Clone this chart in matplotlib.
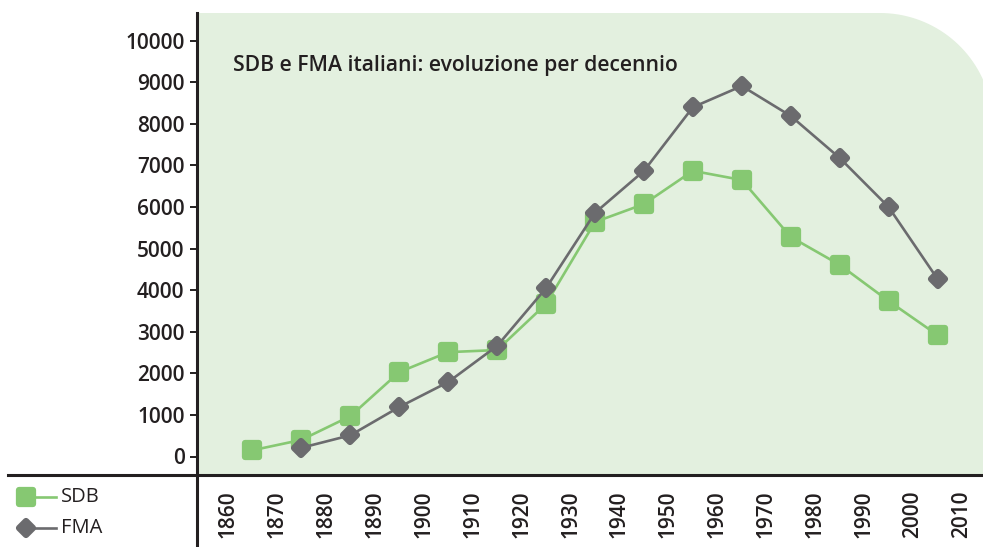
import numpy as np
import matplotlib
matplotlib.use("Agg")
import matplotlib.pyplot as plt
from matplotlib.lines import Line2D
from matplotlib.patches import Polygon
from matplotlib.markers import MarkerStyle

# values (points sit at the middle of each decade)
sdb_years = [1865, 1875, 1885, 1895, 1905, 1915, 1925, 1935, 1945, 1955, 1965, 1975, 1985, 1995, 2005]
sdb_vals = [150, 400, 970, 2030, 2510, 2560, 3670, 5640, 6070, 6870, 6650, 5280, 4610, 3740, 2920]
fma_years = [1875, 1885, 1895, 1905, 1915, 1925, 1935, 1945, 1955, 1965, 1975, 1985, 1995, 2005]
fma_vals = [210, 510, 1190, 1790, 2660, 4050, 5860, 6870, 8400, 8910, 8190, 7180, 6000, 4270]
x_ticks = list(range(1860, 2011, 10))
y_ticks = list(range(0, 10001, 1000))
title = "SDB e FMA italiani: evoluzione per decennio"

GREEN = "#86c872"
GREY = "#6b6b6e"
PANEL = "#e3f0df"
INK = "#231f20"

W, H = 983, 547
plt.rcParams['font.family'] = ['Open Sans', 'DejaVu Sans']

fig = plt.figure(figsize=(W / 100, H / 100), dpi=100)

def fx(px):
    return px / W

def fy(py):
    return 1 - py / H

# background panel with rounded top-right corner (pixel coords)
r, cx, cy = 113, 880, 126
ang = np.linspace(np.pi / 2, 0, 40)
arc = [(cx + r * np.cos(a), cy - r * np.sin(a)) for a in ang]
pts = [(197, 475), (197, 13)] + arc + [(W + 20, cy + 200), (W + 20, 475)]
pts = [(fx(p[0]), fy(p[1])) for p in pts]
fig.add_artist(Polygon(pts, closed=True, facecolor=PANEL, edgecolor="none",
                       transform=fig.transFigure, zorder=0))

ax = fig.add_axes([fx(197), fy(475), fx(W - 197), (475 - 13) / H])
ax.patch.set_visible(False)
x0 = 1860 - (228 - 197) / 4.893
x1 = 2010 + (W - 962) / 4.893
ax.set_xlim(x0, x1)
ax.set_ylim(-(475 - 456.5) / 41.58 * 1000, (456.5 - 13) / 41.58 * 1000)
for s in ax.spines.values():
    s.set_visible(False)

sq = MarkerStyle("s", joinstyle="round")
dm = MarkerStyle("D", joinstyle="round")
ax.plot(sdb_years, sdb_vals, color=GREEN, lw=1.9, marker=sq, ms=9.5,
        mfc=GREEN, mec=GREEN, mew=4.5, zorder=3)
ax.plot(fma_years, fma_vals, color=GREY, lw=1.9, marker=dm, ms=6.8,
        mfc=GREY, mec=GREY, mew=4.5, zorder=4)

ax.set_yticks(y_ticks)
ax.set_yticklabels([str(v) for v in y_ticks], fontsize=15, fontweight=600, color=INK)
ax.tick_params(axis="y", direction="out", length=5, width=1.4, color=INK, pad=4)
ax.set_xticks(x_ticks)
ax.set_xticklabels([str(v) for v in x_ticks], rotation=90, fontsize=15,
                   fontweight=600, color=INK)
ax.tick_params(axis="x", length=0, pad=11)

ax.text((233 - 197) / (W - 197), (475 - 66) / (475 - 13), title,
        transform=ax.transAxes, fontsize=15.2, fontweight=600, color=INK,
        va="center", ha="left")

# axis lines
fig.add_artist(Line2D([fx(197), fx(197)], [fy(13), fy(H + 5)], color=INK, lw=2.2,
                      transform=fig.transFigure, zorder=5))
fig.add_artist(Line2D([fx(8), fx(W + 5)], [fy(475), fy(475)], color=INK, lw=2.2,
                      transform=fig.transFigure, zorder=5))

# legend drawn by hand
for yy, col, mk, ms, lab in [(497, GREEN, sq, 9.5, "SDB"), (528, GREY, dm, 6.8, "FMA")]:
    fig.add_artist(Line2D([fx(26), fx(56)], [fy(yy), fy(yy)], color=col, lw=1.9,
                          marker=mk, ms=ms, mfc=col, mec=col, mew=4.5, markevery=[0],
                          transform=fig.transFigure))
    fig.text(fx(61), fy(yy), lab, fontsize=14.5, color=INK, va="center", ha="left")

fig.savefig("out.png", dpi=100)
